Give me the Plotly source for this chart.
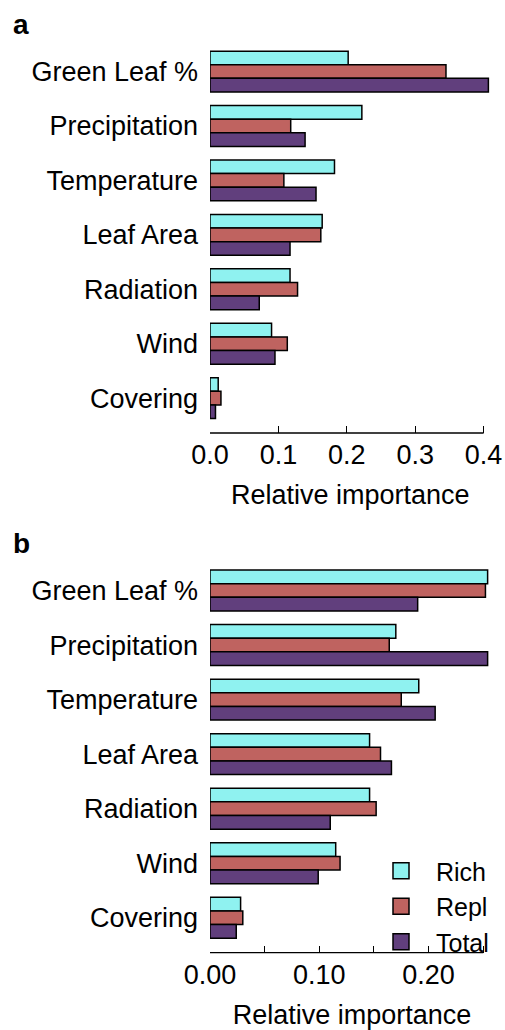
import plotly.graph_objects as go

categories = ["Green Leaf %", "Precipitation", "Temperature", "Leaf Area", "Radiation", "Wind", "Covering"]

# Panel a
rich_a = [0.202, 0.222, 0.182, 0.164, 0.117, 0.090, 0.012]
repl_a = [0.345, 0.118, 0.108, 0.162, 0.128, 0.113, 0.016]
total_a = [0.407, 0.139, 0.155, 0.117, 0.072, 0.095, 0.008]

# Panel b
rich_b = [0.254, 0.170, 0.191, 0.146, 0.146, 0.115, 0.028]
repl_b = [0.252, 0.164, 0.175, 0.156, 0.152, 0.119, 0.030]
total_b = [0.190, 0.254, 0.206, 0.166, 0.110, 0.099, 0.024]

series_names = ["Rich", "Repl", "Total"]
colors = ["#8FF2F0", "#BF6360", "#613F7D"]

ticks_a = [0.0, 0.1, 0.2, 0.3, 0.4]
ticklabels_a = ["0.0", "0.1", "0.2", "0.3", "0.4"]
ticks_b = [0.0, 0.05, 0.10, 0.15, 0.20, 0.25]
ticklabels_b = ["0.00", "", "0.10", "", "0.20", ""]

FONT = "Liberation Sans, Arial, Helvetica, sans-serif"
FS = 27
W, H = 505, 1030

fig = go.Figure()

for vals, name, col in zip([rich_a, repl_a, total_a], series_names, colors):
    fig.add_trace(go.Bar(
        x=vals, y=categories, orientation="h", name=name,
        marker=dict(color=col, line=dict(color="black", width=1.5)),
        xaxis="x", yaxis="y", showlegend=False,
    ))
for vals, name, col in zip([rich_b, repl_b, total_b], series_names, colors):
    fig.add_trace(go.Bar(
        x=vals, y=categories, orientation="h", name=name,
        marker=dict(color=col, line=dict(color="black", width=1.5)),
        xaxis="x2", yaxis="y2", showlegend=False,
    ))
# legend entries
for name, col in zip(series_names, colors):
    fig.add_trace(go.Scatter(
        x=[None], y=[None], mode="markers", name=name,
        marker=dict(symbol="square", size=18, color=col, line=dict(color="black", width=1.5)),
        xaxis="x2", yaxis="y2", showlegend=True,
    ))

def px_x(p):
    return p / W

def px_y(p):
    return 1 - p / H

xa_right = 210 + 0.41 * 684
xb_right = 210 + 0.26 * 1093

common_x = dict(
    showgrid=False, zeroline=False, showline=False, automargin=False,
    ticks="inside", ticklen=7, tickwidth=1.3, tickcolor="black",
    tickfont=dict(size=FS, color="black", family=FONT),
    ticklabelstandoff=3,
    title=dict(text="Relative importance", font=dict(size=FS, color="black", family=FONT), standoff=16),
)
common_y = dict(
    showgrid=False, zeroline=False, showline=False, ticks="", automargin=False,
    tickfont=dict(size=FS, color="black", family=FONT),
    ticklabelstandoff=11,
    categoryorder="array", categoryarray=categories,
    range=[6.64, -0.55],
)

fig.update_layout(
    width=W, height=H,
    margin=dict(l=0, r=0, t=0, b=0, autoexpand=False),
    paper_bgcolor="white", plot_bgcolor="white",
    barmode="group", bargap=0.25, bargroupgap=0,
    font=dict(family=FONT, color="black", size=FS),
    xaxis=dict(domain=[px_x(210), px_x(xa_right)], range=[0, 0.41], anchor="y",
               tickvals=ticks_a, ticktext=ticklabels_a, **common_x),
    yaxis=dict(domain=[px_y(433), px_y(41.6)], anchor="x", **common_y),
    xaxis2=dict(domain=[px_x(210), px_x(xb_right)], range=[0, 0.26], anchor="y2",
                tickvals=ticks_b, ticktext=ticklabels_b, **common_x),
    yaxis2=dict(domain=[px_y(952.7), px_y(560.5)], anchor="x2", **common_y),
    legend=dict(
        x=px_x(366), y=px_y(848), xanchor="left", yanchor="top",
        font=dict(size=25, color="black", family=FONT),
        bgcolor="rgba(0,0,0,0)", borderwidth=0,
        itemwidth=60, tracegroupgap=0,
    ),
    showlegend=True,
)

# axis lines spanning only the labelled tick range
fig.add_shape(type="line", xref="x", yref="y domain", x0=ticks_a[0], x1=ticks_a[-1], y0=0, y1=0,
              line=dict(color="black", width=1.3))
fig.add_shape(type="line", xref="x2", yref="y2 domain", x0=ticks_b[0], x1=ticks_b[-1], y0=0, y1=0,
              line=dict(color="black", width=1.3))

fig.add_annotation(text="<b>a</b>", xref="paper", yref="paper", x=px_x(11), y=px_y(7),
                   xanchor="left", yanchor="top", showarrow=False,
                   font=dict(size=28, color="black", family=FONT))
fig.add_annotation(text="<b>b</b>", xref="paper", yref="paper", x=px_x(11), y=px_y(526),
                   xanchor="left", yanchor="top", showarrow=False,
                   font=dict(size=28, color="black", family=FONT))

fig.write_html("out.html")
